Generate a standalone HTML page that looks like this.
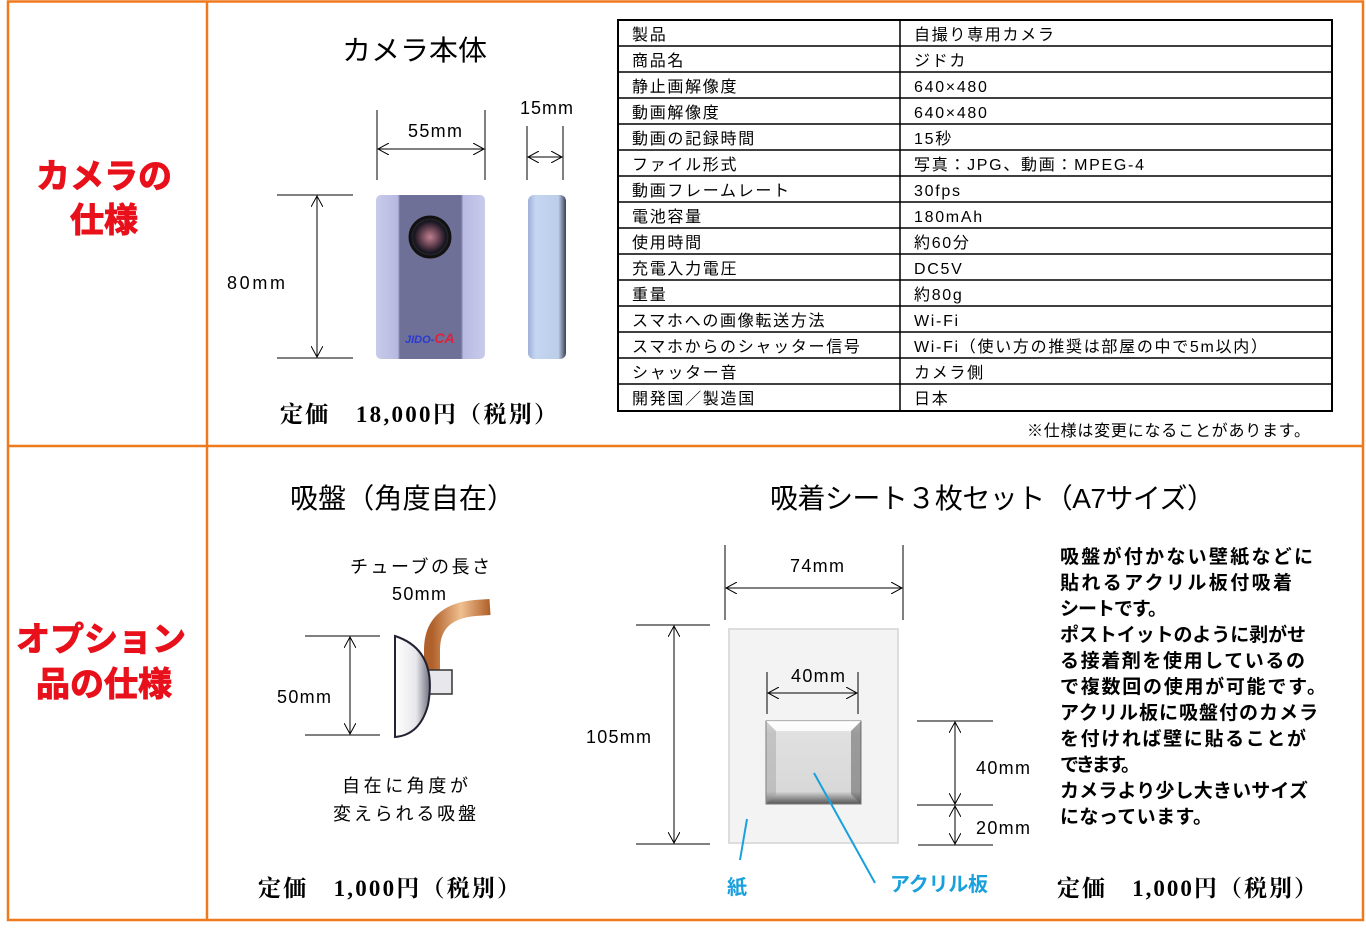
<!DOCTYPE html>
<html><head><meta charset="utf-8"><style>
html,body{margin:0;padding:0;background:#fff;}
body{width:1366px;height:923px;overflow:hidden;font-family:"Liberation Sans","Noto Sans CJK JP",sans-serif;}
</style></head><body>
<svg width="1366" height="923" viewBox="0 0 1366 923" xmlns="http://www.w3.org/2000/svg" font-family="Liberation Sans, Noto Sans CJK JP, sans-serif">
<defs>
<marker id="a" viewBox="0 0 12 12" refX="11" refY="6" markerWidth="12" markerHeight="12" markerUnits="userSpaceOnUse" orient="auto-start-reverse"><path d="M0,0 L11,6 L0,12" fill="none" stroke="#000" stroke-width="1"/></marker>
<linearGradient id="cam" x1="0" x2="1"><stop offset="0" stop-color="#c9cbeb"/><stop offset="0.2" stop-color="#b6b8e0"/><stop offset="0.22" stop-color="#6e7098"/><stop offset="0.78" stop-color="#6e7098"/><stop offset="0.8" stop-color="#b8bae2"/><stop offset="1" stop-color="#c9cbeb"/></linearGradient>
<linearGradient id="side" x1="0" x2="1"><stop offset="0" stop-color="#9fb0d8"/><stop offset="0.2" stop-color="#c4d6f2"/><stop offset="0.8" stop-color="#bccde8"/><stop offset="1" stop-color="#3a4058"/></linearGradient>
<linearGradient id="cup" x1="0" x2="1"><stop offset="0" stop-color="#fff"/><stop offset="0.6" stop-color="#e8e8ec"/><stop offset="1" stop-color="#707080"/></linearGradient>
<linearGradient id="tube" x1="0" x2="1"><stop offset="0" stop-color="#b0602a"/><stop offset="0.5" stop-color="#f0c090"/><stop offset="1" stop-color="#b0602a"/></linearGradient>
<linearGradient id="acr" x1="0" y1="0" x2="0" y2="1"><stop offset="0" stop-color="#fafafa"/><stop offset="0.15" stop-color="#e0e0e0"/><stop offset="0.85" stop-color="#d8d8d8"/><stop offset="1" stop-color="#555"/></linearGradient>
<radialGradient id="lens"><stop offset="0" stop-color="#c08090"/><stop offset="0.5" stop-color="#5a3a4a"/><stop offset="0.8" stop-color="#151520"/><stop offset="1" stop-color="#333"/></radialGradient>
</defs>
<g stroke="#ef7a1e" stroke-width="2.5" fill="none">
<rect x="8" y="1.5" width="1355" height="918.5"/>
<line x1="207" y1="1" x2="207" y2="920"/>
<line x1="8" y1="446" x2="1363" y2="446"/>
</g>
<g fill="#e8101a" font-weight="bold" font-size="34" text-anchor="middle" stroke="#e8101a" stroke-width="1">
<text x="104" y="188">カメラの</text>
<text x="104" y="232">仕様</text>
<text x="101" y="651">オプション</text>
<text x="104" y="696">品の仕様</text>
</g>
<text x="342" y="60" font-size="28" textLength="145" lengthAdjust="spacingAndGlyphs">カメラ本体</text>
<g stroke="#000" stroke-width="1" fill="none">
<line x1="377" y1="110" x2="377" y2="180"/><line x1="485" y1="110" x2="485" y2="180"/>
<line x1="378" y1="149" x2="484" y2="149" marker-start="url(#a)" marker-end="url(#a)"/>
<line x1="527" y1="126" x2="527" y2="180"/><line x1="563" y1="126" x2="563" y2="180"/>
<line x1="528" y1="157" x2="562" y2="157" marker-start="url(#a)" marker-end="url(#a)"/>
<line x1="277" y1="195" x2="353" y2="195"/><line x1="277" y1="358" x2="353" y2="358"/>
<line x1="317" y1="196" x2="317" y2="357" marker-start="url(#a)" marker-end="url(#a)"/>
</g>
<g font-size="18">
<text x="408" y="137" textLength="54">55mm</text>
<text x="520" y="114" textLength="53">15mm</text>
<text x="227" y="289" textLength="58">80mm</text>
</g>
<rect x="376" y="195" width="109" height="164" rx="5" fill="url(#cam)"/>
<circle cx="430" cy="237" r="20" fill="url(#lens)" stroke="#111" stroke-width="3"/>
<text x="405" y="343" font-size="11" font-weight="bold" font-style="italic" fill="#2a3ad0">JIDO-<tspan fill="#e0203a" font-size="14">CA</tspan></text>
<rect x="528" y="195" width="38" height="164" rx="6" fill="url(#side)"/>
<text x="280" y="422" font-size="23" font-weight="bold" font-family="Liberation Serif, Noto Serif CJK SC, serif" textLength="277">定価　18,000円（税別）</text>
<g font-size="16">
<rect x="618" y="20" width="714" height="391" fill="none" stroke="#000" stroke-width="2"/>
<line x1="900" y1="20" x2="900" y2="411" stroke="#000" stroke-width="1.5"/>
<g stroke="#000" stroke-width="1.5">
<line x1="618" y1="46" x2="1332" y2="46"/><line x1="618" y1="72" x2="1332" y2="72"/><line x1="618" y1="98" x2="1332" y2="98"/><line x1="618" y1="124" x2="1332" y2="124"/><line x1="618" y1="150" x2="1332" y2="150"/><line x1="618" y1="176" x2="1332" y2="176"/><line x1="618" y1="202" x2="1332" y2="202"/><line x1="618" y1="228" x2="1332" y2="228"/><line x1="618" y1="254" x2="1332" y2="254"/><line x1="618" y1="280" x2="1332" y2="280"/><line x1="618" y1="306" x2="1332" y2="306"/><line x1="618" y1="332" x2="1332" y2="332"/><line x1="618" y1="358" x2="1332" y2="358"/><line x1="618" y1="384" x2="1332" y2="384"/>
</g>
<g letter-spacing="1.7">
<text x="632" y="40">製品</text><text x="914" y="40">自撮り専用カメラ</text>
<text x="632" y="66">商品名</text><text x="914" y="66">ジドカ</text>
<text x="632" y="92">静止画解像度</text><text x="914" y="92">640×480</text>
<text x="632" y="118">動画解像度</text><text x="914" y="118">640×480</text>
<text x="632" y="144">動画の記録時間</text><text x="914" y="144">15秒</text>
<text x="632" y="170">ファイル形式</text><text x="914" y="170">写真：JPG、動画：MPEG-4</text>
<text x="632" y="196">動画フレームレート</text><text x="914" y="196">30fps</text>
<text x="632" y="222">電池容量</text><text x="914" y="222">180mAh</text>
<text x="632" y="248">使用時間</text><text x="914" y="248">約60分</text>
<text x="632" y="274">充電入力電圧</text><text x="914" y="274">DC5V</text>
<text x="632" y="300">重量</text><text x="914" y="300">約80g</text>
<text x="632" y="326">スマホへの画像転送方法</text><text x="914" y="326">Wi-Fi</text>
<text x="632" y="352">スマホからのシャッター信号</text><text x="914" y="352">Wi-Fi（使い方の推奨は部屋の中で5m以内）</text>
<text x="632" y="378">シャッター音</text><text x="914" y="378">カメラ側</text>
<text x="632" y="404">開発国／製造国</text><text x="914" y="404">日本</text>
</g>
<text x="1027" y="436" font-size="16" textLength="283">※仕様は変更になることがあります。</text>
</g>
<text x="290" y="508" font-size="28" textLength="225">吸盤（角度自在）</text>
<text x="350" y="573" font-size="18" textLength="140">チューブの長さ</text>
<text x="392" y="600" font-size="18" textLength="54">50mm</text>
<g stroke="#000" stroke-width="1" fill="none">
<line x1="305" y1="636" x2="380" y2="636"/><line x1="305" y1="735" x2="380" y2="735"/>
<line x1="350" y1="637" x2="350" y2="734" marker-start="url(#a)" marker-end="url(#a)"/>
</g>
<text x="277" y="703" font-size="18" textLength="54">50mm</text>
<path d="M432,672 L432,650 Q432,612 475,608 L490,607" stroke="url(#tube)" stroke-width="16" fill="none"/>
<rect x="427" y="670" width="25" height="24" fill="#e8e8ec" stroke="#333" stroke-width="1.5"/>
<path d="M395,636 Q438,650 428,705 Q420,735 395,737 Z" fill="url(#cup)" stroke="#223" stroke-width="2"/>
<text x="342" y="792" font-size="18" textLength="126">自在に角度が</text>
<text x="333" y="820" font-size="18" textLength="143">変えられる吸盤</text>
<text x="258" y="896" font-size="23" font-weight="bold" font-family="Liberation Serif, Noto Serif CJK SC, serif" textLength="262">定価　1,000円（税別）</text>
<text x="770" y="508" font-size="28" textLength="445">吸着シート３枚セット（A7サイズ）</text>
<rect x="729" y="629" width="169" height="214" fill="#f3f3f3" stroke="#ddd" stroke-width="2"/>
<rect x="766" y="721" width="95" height="83" fill="url(#acr)" stroke="#777" stroke-width="1"/>
<path d="M766,721 L861,721 L851,731 L776,731 Z" fill="#fff" opacity="0.8"/>
<path d="M861,721 L861,804 L851,794 L851,731 Z" fill="#555" opacity="0.5"/>
<path d="M766,721 L766,804 L776,794 L776,731 Z" fill="#999" opacity="0.4"/>
<g stroke="#000" stroke-width="1" fill="none">
<line x1="725" y1="545" x2="725" y2="620"/><line x1="903" y1="545" x2="903" y2="620"/>
<line x1="726" y1="588" x2="902" y2="588" marker-start="url(#a)" marker-end="url(#a)"/>
<line x1="636" y1="625" x2="710" y2="625"/><line x1="636" y1="844" x2="710" y2="844"/>
<line x1="674" y1="626" x2="674" y2="843" marker-start="url(#a)" marker-end="url(#a)"/>
<line x1="767" y1="672" x2="767" y2="714"/><line x1="858" y1="672" x2="858" y2="714"/>
<line x1="768" y1="693" x2="857" y2="693" marker-start="url(#a)" marker-end="url(#a)"/>
<line x1="917" y1="721" x2="993" y2="721"/><line x1="917" y1="805" x2="993" y2="805"/><line x1="918" y1="845" x2="993" y2="845"/>
<line x1="955" y1="722" x2="955" y2="804" marker-start="url(#a)" marker-end="url(#a)"/>
<line x1="955" y1="806" x2="955" y2="844" marker-start="url(#a)" marker-end="url(#a)"/>
</g>
<g font-size="18">
<text x="790" y="572" textLength="54">74mm</text>
<text x="791" y="682" textLength="54">40mm</text>
<text x="586" y="743" textLength="65">105mm</text>
<text x="976" y="774" textLength="54">40mm</text>
<text x="976" y="834" textLength="54">20mm</text>
</g>
<g stroke="#1aa0dc" stroke-width="2"><line x1="747" y1="819" x2="740" y2="860"/><line x1="814" y1="773" x2="875" y2="883"/></g>
<g fill="#1aa0dc" font-weight="bold" font-size="20"><text x="727" y="894">紙</text><text x="890" y="891" textLength="98">アクリル板</text></g>
<g font-size="19" font-weight="bold">
<text x="1060" y="563" textLength="253">吸盤が付かない壁紙などに</text>
<text x="1060" y="589" textLength="232">貼れるアクリル板付吸着</text>
<text x="1060" y="615" textLength="107">シートです。</text>
<text x="1060" y="641" textLength="246">ポストイットのように剥がせ</text>
<text x="1060" y="667" textLength="245">る接着剤を使用しているの</text>
<text x="1060" y="693" textLength="266">で複数回の使用が可能です。</text>
<text x="1060" y="719" textLength="258">アクリル板に吸盤付のカメラ</text>
<text x="1060" y="745" textLength="246">を付ければ壁に貼ることが</text>
<text x="1060" y="771" textLength="80">できます。</text>
<text x="1060" y="797" textLength="248">カメラより少し大きいサイズ</text>
<text x="1060" y="823" textLength="152">になっています。</text>
</g>
<text x="1057" y="896" font-size="23" font-weight="bold" font-family="Liberation Serif, Noto Serif CJK SC, serif" textLength="260">定価　1,000円（税別）</text>
</svg>
</body></html>
